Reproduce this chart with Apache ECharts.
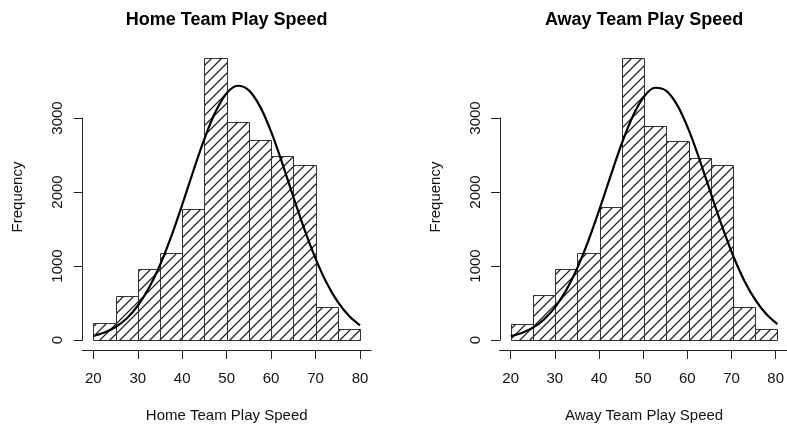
<!DOCTYPE html>
<html>
<head>
<meta charset="utf-8">
<script src="https://cdn.jsdelivr.net/npm/echarts@6/dist/echarts.min.js"></script>
<style>html,body{margin:0;padding:0;background:#fff}#c{width:787px;height:427px}</style>
</head>
<body>
<div id="c"></div>
<script>
// ---- data ----
const binEdges = [20, 25, 30, 35, 40, 45, 50, 55, 60, 65, 70, 75, 80];
const homeCounts = [225, 599, 964, 1171, 1775, 3806, 2950, 2703, 2491, 2360, 441, 149];
const awayCounts = [216, 604, 964, 1180, 1802, 3806, 2892, 2685, 2464, 2369, 446, 144];
const curveX    = [20, 22.5, 25, 27.5, 30, 32.5, 35, 37.5, 40, 42.5, 45, 47.5, 50, 52.5, 55, 57.5, 60, 62.5, 65, 67.5, 70, 72.5, 75, 77.5, 80];
const homeCurve = [54, 100, 175, 291, 463, 702, 1014, 1394, 1828, 2284, 2719, 3084, 3335, 3436, 3374, 3157, 2815, 2391, 1936, 1494, 1099, 770, 514, 327, 199];
const awayCurve = [52, 95, 167, 279, 444, 674, 975, 1346, 1771, 2222, 2656, 3028, 3291, 3409, 3367, 3171, 2846, 2435, 1987, 1545, 1145, 809, 546, 350, 214];
const xTicks = [20, 30, 40, 50, 60, 70, 80];
const yTicks = [0, 1000, 2000, 3000];
const titles = ['Home Team Play Speed', 'Away Team Play Speed'];
const xTitles = ['Home Team Play Speed', 'Away Team Play Speed'];
const yTitle = 'Frequency';

// ---- layout ----
const FONT = "'Liberation Sans', Arial, Helvetica, sans-serif";
const INK = '#222';
const panelLeft = [93.3, 510.7];   // pixel x of value 20
const unitPx = 4.445;              // pixels per x unit
const yAxisX = [82.7, 500.1];
const centers = [226.7, 644.1];
const freqX = [18.3, 435.7];

function binData(counts) {
  return counts.map((c, i) => [binEdges[i], binEdges[i + 1], c]);
}
function curveData(ys) { return curveX.map((x, i) => [x, ys[i]]); }

function renderHist(params, api) {
  const x0 = api.value(0), x1 = api.value(1), v = api.value(2);
  const p0 = api.coord([x0, v]);
  const p1 = api.coord([x1, 0]);
  const L = Math.round(p0[0]) + 0.5, R = Math.round(p1[0]) + 0.5;
  const T = Math.round(p0[1]) + 0.5, B = Math.round(p1[1]) + 0.5;
  const kids = [];
  const s = 10;
  for (let c = Math.ceil((L + T) / s) * s; c <= R + B; c += s) {
    const xa = Math.max(L, c - B), xb = Math.min(R, c - T);
    if (xb > xa) {
      kids.push({type: 'line', shape: {x1: xa, y1: c - xa, x2: xb, y2: c - xb},
        style: {stroke: '#1a1a1a', lineWidth: 1.1}, silent: true});
    }
  }
  kids.push({type: 'rect', shape: {x: L, y: T, width: R - L, height: B - T},
    style: {fill: 'none', stroke: '#333', lineWidth: 1}});
  return {type: 'group', children: kids};
}

const grid = [], xAxis = [], yAxis = [], series = [], graphic = [];
[0, 1].forEach(p => {
  const base = p * 3;
  const left = panelLeft[p];
  // data grid
  grid.push({left: left, width: 60 * unitPx, top: 44, bottom: 87});
  xAxis.push({gridIndex: base, type: 'value', min: 20, max: 80, show: false});
  yAxis.push({gridIndex: base, type: 'value', min: 0, max: 4000, show: false});
  // x axis decoration grid
  grid.push({left: left - 2.5 * unitPx, width: 65 * unitPx, top: 300, bottom: 77});
  xAxis.push({gridIndex: base + 1, type: 'value', min: 17.5, max: 82.5,
    axisLine: {show: true, onZero: false, lineStyle: {color: INK, width: 1}},
    axisTick: {show: true, length: 9, customValues: xTicks, lineStyle: {color: INK}},
    axisLabel: {show: true, customValues: xTicks, fontSize: 15, fontFamily: FONT, color: '#111', margin: 21},
    splitLine: {show: false}});
  yAxis.push({gridIndex: base + 1, type: 'value', min: 0, max: 1, show: false});
  // y axis decoration grid
  grid.push({left: yAxisX[p], width: 10, top: 118, bottom: 87});
  xAxis.push({gridIndex: base + 2, type: 'value', min: 0, max: 1, show: false});
  yAxis.push({gridIndex: base + 2, type: 'value', min: 0, max: 3000, interval: 1000,
    axisLine: {show: true, onZero: false, lineStyle: {color: INK, width: 1}},
    axisTick: {show: true, length: 9, lineStyle: {color: INK}},
    axisLabel: {show: true, rotate: 90, fontSize: 15, fontFamily: FONT, color: '#111', margin: 17,
      formatter: v => String(v)},
    splitLine: {show: false}});

  series.push({type: 'custom', xAxisIndex: base, yAxisIndex: base,
    data: binData(p === 0 ? homeCounts : awayCounts), renderItem: renderHist, z: 2, clip: false});
  series.push({type: 'line', xAxisIndex: base, yAxisIndex: base,
    data: curveData(p === 0 ? homeCurve : awayCurve), smooth: 0.35, showSymbol: false,
    lineStyle: {color: '#000', width: 2.2}, z: 3, silent: true});

  graphic.push({type: 'text', x: centers[p], y: 20,
    style: {text: titles[p], font: 'bold 18px ' + FONT, fill: '#000', align: 'center', verticalAlign: 'middle', textAlign: 'center', textVerticalAlign: 'middle'}});
  graphic.push({type: 'text', x: centers[p], y: 416,
    style: {text: xTitles[p], font: '15px ' + FONT, fill: '#111', align: 'center', verticalAlign: 'middle', textAlign: 'center', textVerticalAlign: 'middle'}});
  graphic.push({type: 'text', x: freqX[p], y: 197, rotation: Math.PI / 2,
    style: {text: yTitle, font: '15px ' + FONT, fill: '#111', align: 'center', verticalAlign: 'middle', textAlign: 'center', textVerticalAlign: 'middle'}});
});

const chart = echarts.init(document.getElementById('c'), null, {renderer: 'canvas'});
chart.setOption({
  backgroundColor: '#fff',
  animation: false,
  grid, xAxis, yAxis, series, graphic
});
</script>
</body>
</html>
